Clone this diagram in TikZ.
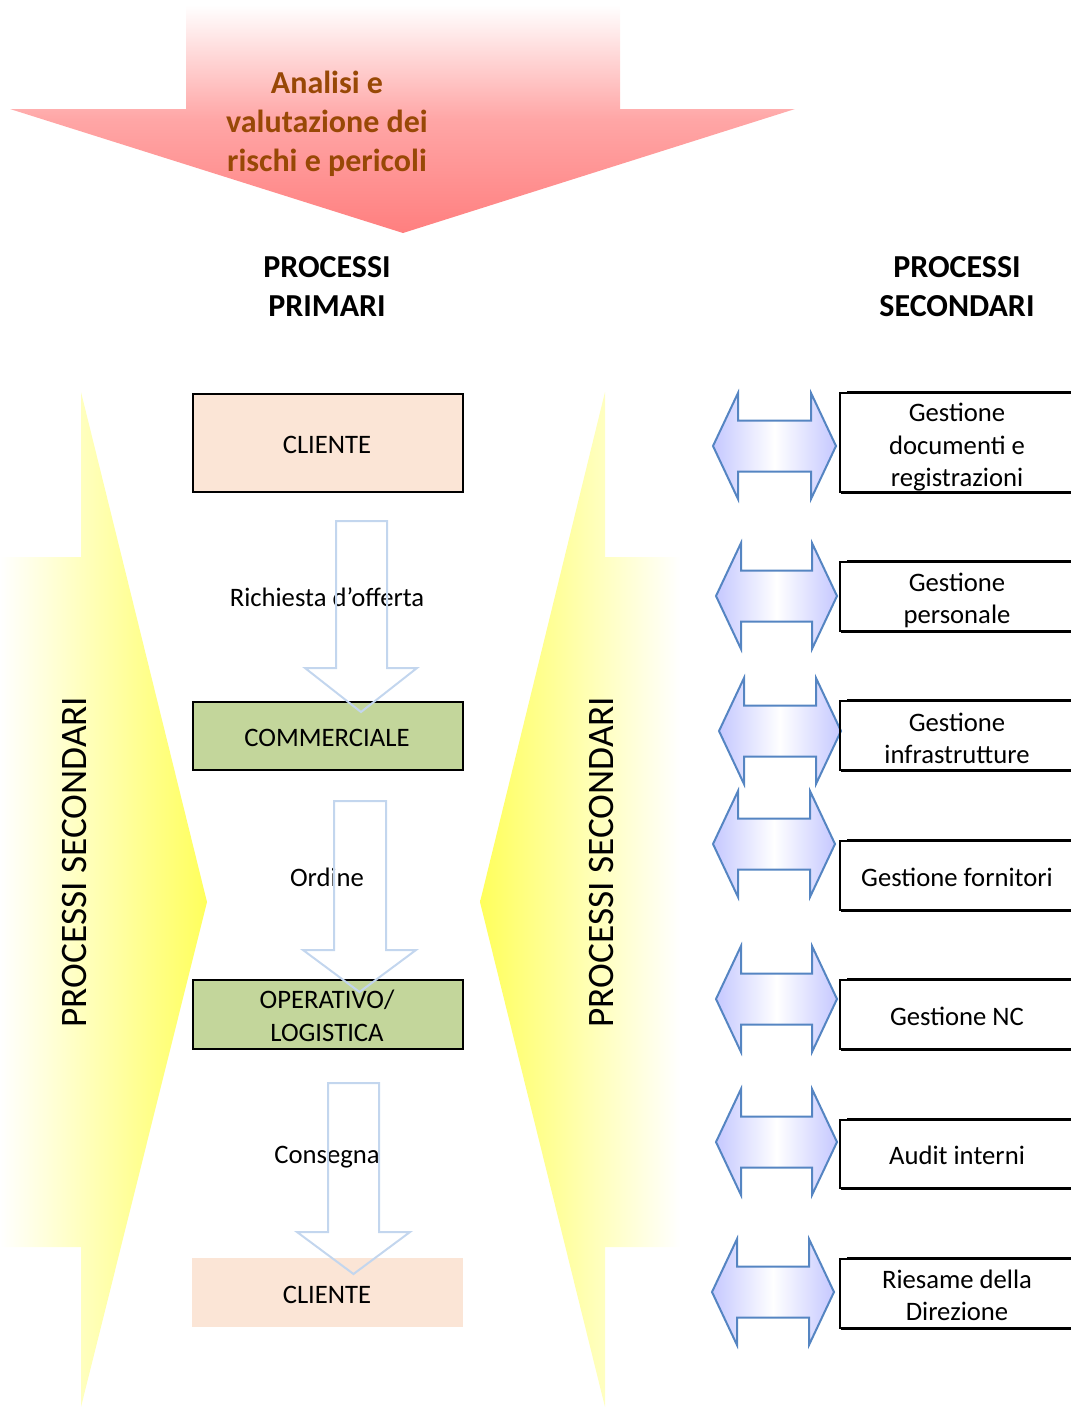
\documentclass[tikz,border=0pt]{standalone}
\usepackage{fontspec}
\setmainfont{Carlito}
\usetikzlibrary{calc}
\definecolor{peach}{HTML}{FBE5D6}
\definecolor{greenbox}{HTML}{C3D69B}
\definecolor{pinkarr}{HTML}{FF7F7F}
\definecolor{pinkmid}{HTML}{FFA6A6}
\definecolor{brownt}{HTML}{984806}
\definecolor{flowblue}{HTML}{C3D6EE}
\definecolor{dblue}{HTML}{5585C2}
\definecolor{lav}{HTML}{C5C8FF}
\definecolor{yel}{HTML}{FFFF5C}
\newcommand{\dblarrow}[4]{%
  \draw[dbl] (#1,#3) -- ({#1+25},{#3-53}) -- ({#1+25},{#3-25.5}) -- ({#2-25},{#3-25.5}) -- ({#2-25},{#3-53}) -- (#2,#3) -- ({#2-25},{#3+53}) -- ({#2-25},{#3+25.5}) -- ({#1+25},{#3+25.5}) -- ({#1+25},{#3+53}) -- cycle;
  \coordinate (#4) at ({(#1+#2)/2},#3);}
\begin{document}
\begin{tikzpicture}[x=0.75pt,y=-0.75pt,
  bodyfont/.style={font=\fontsize{20}{24.4}\selectfont},
  pbox/.style={line width=1.5pt, minimum width=270*0.75pt, inner sep=0pt},
  rbox/.style={draw=black, line width=0.8pt, minimum width=234*0.75pt, inner sep=0pt},
  hdr/.style={font=\fontsize{24}{29.25}\selectfont\bfseries, align=center},
  vtext/.style={font=\fontsize{28}{30}\selectfont, rotate=90},
  lbl/.style={bodyfont, inner sep=0pt, align=center},
  hollow/.style={draw=flowblue, line width=1.5pt, line join=miter},
  dbl/.style={draw=dblue, line width=1.5pt, line join=miter, left color=lav, right color=lav, middle color=white}
]
\path[use as bounding box] (0,0) rectangle (1071,1407);
\clip (0,0) rectangle (1071,1407);

% yellow side arrows
\path[left color=white, right color=yel] (0,557) -- (81,557) -- (81,392) -- (207,902) -- (81,1407) -- (81,1247) -- (0,1247) -- cycle;
\path[left color=yel, right color=white] (680,557) -- (605,557) -- (605,392) -- (480,902) -- (605,1407) -- (605,1247) -- (680,1247) -- cycle;
\node[vtext] (sl) at (75,862) {PROCESSI SECONDARI};
\node[vtext] (sr) at (602,862) {PROCESSI SECONDARI};

% top arrow
\path[top color=white, bottom color=pinkarr, middle color=pinkmid] (186,5) -- (620,5) -- (620,109) -- (795,109) -- (403,233) -- (10,109) -- (186,109) -- cycle;
\node[hdr, text=brownt] (risk) at (327,124) {Analisi e\\valutazione dei\\rischi e pericoli};

% headers
\node[hdr] (hp) at (327,287) {PROCESSI\\PRIMARI};
\node[hdr] (hs) at (957,287) {PROCESSI\\SECONDARI};

% primary process boxes
\node[pbox, draw=black, fill=peach, minimum height=98*0.75pt] (c1) at (328,443) {};
\node[pbox, draw=black, fill=greenbox, minimum height=68*0.75pt] (comm) at (328,736) {};
\node[pbox, draw=black, fill=greenbox, minimum height=69*0.75pt] (oper) at (328,1014.5) {};
\node[pbox, fill=peach, minimum height=69*0.75pt, minimum width=271*0.75pt] (c2) at (327.5,1292.5) {};
\node[lbl] (tc1) at (327,445) {CLIENTE};
\node[lbl] (tcomm) at (327,738) {COMMERCIALE};
\node[lbl] (toper) at (327,1016) {OPERATIVO/\\LOGISTICA};
\node[lbl] (tc2) at (327,1294.5) {CLIENTE};

% flow labels
\node[lbl] (l1) at (327,597) {Richiesta d’offerta};
\node[lbl] (l2) at (327,877) {Ordine};
\node[lbl] (l3) at (327,1157) {Consegna};

% hollow block arrows
\draw[hollow] (336,521) -- (387,521) -- (387,668) -- (417,668) -- (361,712) -- (305,668) -- (336,668) -- cycle;
\draw[hollow] (334,801) -- (386,801) -- (386,950) -- (416,950) -- (359.5,992) -- (303,950) -- (334,950) -- cycle;
\draw[hollow] (328,1083) -- (379,1083) -- (379,1232) -- (410,1232) -- (353.5,1274) -- (297,1232) -- (328,1232) -- cycle;

% double arrows
\dblarrow{713}{836}{446}{d1}
\dblarrow{716}{837}{596}{d2}
\dblarrow{719}{841}{731}{d3}
\dblarrow{713}{835}{844}{d4}
\dblarrow{716}{837}{999}{d5}
\dblarrow{716}{837}{1142}{d6}
\dblarrow{712}{834}{1292}{d7}

% secondary process boxes
\node[rbox, minimum height=99*0.75pt] (r1) at (957,442.5) {};
\node[rbox, minimum height=69*0.75pt] (r2) at (957,596.5) {};
\node[rbox, minimum height=69*0.75pt] (r3) at (957,735.5) {};
\node[rbox, minimum height=69*0.75pt] (r4) at (957,875.5) {};
\node[rbox, minimum height=69*0.75pt] (r5) at (957,1014.5) {};
\node[rbox, minimum height=68*0.75pt] (r6) at (957,1154) {};
\node[rbox, minimum height=69*0.75pt] (r7) at (957,1293.5) {};
\foreach \r in {r1,r2,r3,r4,r5,r6,r7}{
  \draw[line width=1.5pt] ($(\r.north west)+(8,0)$) -- (\r.north east);
  \draw[line width=1.5pt] ($(\r.south west)+(2,0)$) -- (\r.south east);
}
\node[lbl] (t1) at (957,447.5) {Gestione\\documenti e\\registrazioni};
\node[lbl] (t2) at (957,600.5) {Gestione\\personale};
\node[lbl] (t3) at (957,738.5) {Gestione\\infrastrutture};
\node[lbl] (t4) at (957,877.5) {Gestione fornitori};
\node[lbl] (t5) at (957,1016.5) {Gestione NC};
\node[lbl] (t6) at (957,1155.5) {Audit interni};
\node[lbl] (t7) at (957,1295.5) {Riesame della\\Direzione};
\end{tikzpicture}
\end{document}
